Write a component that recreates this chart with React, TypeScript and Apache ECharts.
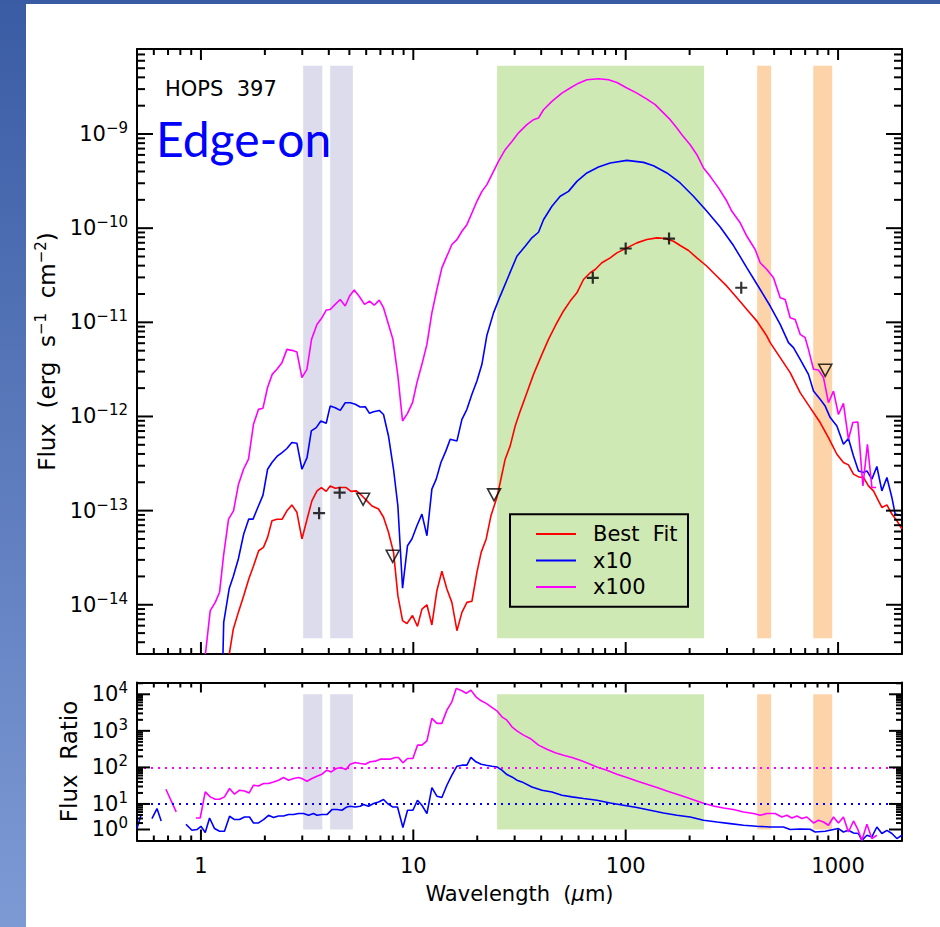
import React, { useEffect, useRef } from "react";
import * as echarts from "echarts";

type Pt = [number, number];

// ---------------- data (wavelength in micron, flux in erg s^-1 cm^-2) ----------------
const bestFit: Pt[] = [
  [1.36, 3.0e-15], [1.42, 5.5e-15], [1.5, 8.3e-15], [1.59, 1.25e-14], [1.68, 1.88e-14], [1.77, 2.6e-14],
  [1.87, 3.75e-14], [1.97, 4.07e-14], [2.06, 5.2e-14], [2.16, 7.8e-14], [2.28, 8.1e-14], [2.41, 8.1e-14],
  [2.54, 9.95e-14], [2.68, 1.15e-13], [2.83, 9.6e-14], [2.99, 5.0e-14], [3.16, 8.1e-14], [3.33, 1.27e-13],
  [3.52, 1.62e-13], [3.69, 1.76e-13], [3.89, 1.6e-13], [4.06, 1.83e-13], [4.29, 1.73e-13], [4.53, 1.76e-13],
  [4.83, 1.76e-13], [5.09, 1.6e-13], [5.39, 1.62e-13], [5.73, 1.44e-13], [6.05, 1.27e-13], [6.39, 1.12e-13],
  [6.86, 1.04e-13], [7.24, 8.5e-14], [7.64, 5.9e-14], [8.07, 3.6e-14], [8.46, 1.25e-14], [8.9, 6.8e-15],
  [9.33, 6.3e-15], [9.91, 7.7e-15], [10.46, 5.9e-15], [10.98, 9.0e-15], [11.59, 1.0e-14], [12.23, 6.1e-15],
  [12.91, 1.41e-14], [13.63, 2.27e-14], [14.39, 1.47e-14], [15.19, 1.06e-14], [16.05, 5.3e-15], [16.94, 8.3e-15],
  [17.88, 1.06e-14], [18.88, 1.09e-14], [19.93, 2.21e-14], [20.87, 3.6e-14], [22.04, 5.0e-14], [23.2, 8.8e-14],
  [24.75, 1.38e-13], [25.65, 1.99e-13], [27.08, 3.52e-13], [28.59, 4.87e-13], [30.18, 7.93e-13], [31.87, 1.14e-12],
  [34.26, 1.79e-12], [36.81, 2.8e-12], [40.33, 4.57e-12], [43.3, 6.59e-12], [47.45, 9.9e-12], [50.96, 1.32e-11],
  [54.79, 1.68e-11], [58.92, 2.06e-11], [63.29, 2.85e-11], [68.06, 3.36e-11], [71.86, 3.64e-11], [77.25, 4.29e-11],
  [84.53, 4.84e-11], [90.9, 5.47e-11], [101.3, 6.18e-11], [112.9, 6.98e-11], [125.8, 7.57e-11], [140.3, 7.89e-11],
  [153.5, 7.76e-11], [167.9, 7.26e-11], [180.6, 6.54e-11], [197.6, 5.79e-11], [216.4, 4.84e-11], [241.2, 3.94e-11],
  [268.8, 3.09e-11], [299.6, 2.42e-11], [333.9, 1.82e-11], [372.1, 1.37e-11], [414.7, 1.03e-11], [462.2, 7.14e-12],
  [479, 6.08e-12], [533.9, 4.22e-12], [594.9, 2.92e-12], [663, 1.79e-12], [738.9, 1.24e-12], [823.5, 8.62e-13],
  [901.1, 5.97e-13], [987.2, 3.97e-13], [1060, 3.24e-13], [1119, 3.06e-13], [1182, 2.44e-13], [1248, 2.28e-13],
  [1317, 2.25e-13], [1390, 1.83e-13], [1468, 1.62e-13], [1550, 1.27e-13], [1608, 1.08e-13], [1698, 1.15e-13],
  [1792, 9.2e-14], [1892, 7.8e-14], [1998, 6.4e-14],
];

const times10: Pt[] = [
  [1.27, 3.0e-15], [1.28, 6.5e-15], [1.36, 1.5e-14], [1.42, 2.0e-14], [1.5, 3.06e-14], [1.59, 5.64e-14],
  [1.68, 8.13e-14], [1.76, 8.13e-14], [1.84, 1.04e-13], [1.96, 1.46e-13], [2.06, 2.75e-13], [2.16, 3.24e-13],
  [2.28, 3.76e-13], [2.41, 4.14e-13], [2.54, 4.57e-13], [2.68, 5.29e-13], [2.83, 5.2e-13], [2.99, 2.75e-13],
  [3.16, 3.66e-13], [3.31, 7.02e-13], [3.49, 7.62e-13], [3.67, 8.95e-13], [3.89, 8.47e-13], [4.06, 1.29e-12],
  [4.29, 1.24e-12], [4.53, 1.16e-12], [4.78, 1.4e-12], [5.05, 1.4e-12], [5.33, 1.35e-12], [5.62, 1.26e-12],
  [5.94, 1.27e-12], [6.22, 1.08e-12], [6.5, 1.12e-12], [6.91, 1.16e-12], [7.24, 1.05e-12], [7.64, 6.21e-13],
  [8.07, 2.75e-13], [8.46, 1.12e-13], [8.9, 1.5e-14], [9.39, 4.24e-14], [9.85, 4.99e-14], [10.4, 6.9e-14],
  [10.98, 9.18e-14], [11.59, 5.41e-14], [12.23, 1.69e-13], [12.82, 2.16e-13], [13.49, 3.24e-13], [14.24, 4.31e-13],
  [14.92, 5.73e-13], [16.05, 5.5e-13], [16.94, 9.33e-13], [17.88, 1.19e-12], [18.88, 1.72e-12], [19.93, 2.38e-12],
  [21.04, 3.58e-12], [22.21, 7.3e-12], [23.86, 1.26e-11], [25.65, 1.9e-11], [28.07, 3.09e-11], [30.74, 5.04e-11],
  [33.64, 6.43e-11], [36.17, 7.89e-11], [38.86, 9.05e-11], [41.02, 1.23e-10], [44.94, 1.71e-10], [49.17, 2.18e-10],
  [53.8, 2.46e-10], [58.92, 3.14e-10], [65.67, 3.86e-10], [74.46, 4.47e-10], [84.53, 4.92e-10], [101.3, 5.25e-10],
  [121.3, 5.0e-10], [135.2, 4.61e-10], [156.3, 3.86e-10], [180.6, 3.02e-10], [208.5, 2.18e-10], [241.2, 1.51e-10],
  [278.6, 1.03e-10], [321.8, 6.54e-11], [372.1, 3.79e-11], [429.8, 2.23e-11], [479, 1.49e-11], [533.9, 9.5e-12],
  [584.1, 6.08e-12], [616.6, 5.38e-12], [663, 4.04e-12], [725.4, 2.8e-12], [766.1, 1.86e-12], [823.5, 1.52e-12],
  [869.6, 1.29e-12], [918.2, 9.73e-13], [987.2, 7.93e-13], [1060, 5.07e-13], [1119, 5.83e-13], [1182, 3.81e-13],
  [1248, 2.64e-13], [1317, 2.54e-13], [1367, 2.64e-13], [1443, 2.16e-13], [1523, 2.94e-13], [1608, 1.62e-13],
  [1698, 2.25e-13], [1792, 1.38e-13], [1858, 9.18e-14], [1998, 8.81e-14],
];

const times100: Pt[] = [
  [1.05, 3.0e-15], [1.106, 8.66e-15], [1.168, 1.06e-14], [1.224, 1.36e-14], [1.278, 3.32e-14], [1.349, 8.13e-14],
  [1.424, 9.95e-14], [1.503, 1.91e-13], [1.587, 2.75e-13], [1.675, 3.52e-13], [1.768, 8.26e-13], [1.867, 1.19e-12],
  [1.958, 1.22e-12], [2.059, 2.03e-12], [2.166, 2.8e-12], [2.279, 3.17e-12], [2.407, 3.73e-12], [2.541, 5.16e-12],
  [2.682, 5.04e-12], [2.831, 4.83e-12], [2.989, 2.59e-12], [3.156, 3.17e-12], [3.317, 6.59e-12], [3.517, 9.5e-12],
  [3.713, 1.12e-11], [3.89, 1.35e-11], [4.062, 1.37e-11], [4.289, 1.55e-11], [4.527, 1.75e-11], [4.779, 1.49e-11],
  [5.008, 1.9e-11], [5.27, 2.2e-11], [5.58, 1.87e-11], [5.892, 1.55e-11], [6.221, 1.68e-11], [6.545, 1.52e-11],
  [6.912, 1.72e-11], [7.24, 1.43e-11], [7.643, 9.5e-12], [8.017, 6.59e-12], [8.463, 2.69e-12], [8.896, 8.95e-13],
  [9.391, 1.08e-12], [9.913, 1.4e-12], [10.4, 2.29e-12], [10.98, 3.58e-12], [11.59, 5.83e-12], [12.23, 1.26e-11],
  [12.91, 2.23e-11], [13.63, 3.79e-11], [14.39, 5.04e-11], [15.19, 6.7e-11], [16.05, 7.57e-11], [16.94, 9.27e-11],
  [17.88, 1.09e-10], [18.88, 1.45e-10], [19.93, 1.93e-10], [21.04, 2.46e-10], [22.21, 2.9e-10], [23.44, 3.7e-10],
  [25.18, 5.12e-10], [27.08, 6.82e-10], [29.13, 8.35e-10], [31.29, 1.03e-9], [34.26, 1.26e-9], [36.81, 1.42e-9],
  [38.86, 1.48e-9], [41.02, 1.81e-9], [44.94, 2.22e-9], [50.07, 2.72e-9], [54.79, 3.08e-9], [59.98, 3.47e-9],
  [65.67, 3.77e-9], [74.46, 3.86e-9], [82.99, 3.77e-9], [90.9, 3.52e-9], [101.3, 3.08e-9], [112.9, 2.72e-9],
  [125.8, 2.35e-9], [137.7, 2.05e-9], [148.1, 1.74e-9], [162, 1.42e-9], [174.2, 1.16e-9], [183.9, 9.83e-10],
  [201.2, 7.7e-10], [216.4, 6.03e-10], [232.5, 4.36e-10], [249.9, 3.55e-10], [273.5, 2.68e-10], [299.6, 1.93e-10],
  [316.2, 1.51e-10], [346, 1.14e-10], [372.1, 8.2e-11], [407.1, 5.93e-11], [429.8, 4.29e-11], [462.2, 3.64e-11],
  [496.5, 2.97e-11], [533.9, 1.82e-11], [563.6, 1.75e-11], [594.9, 1.12e-11], [628.1, 1.07e-11], [663, 7.45e-12],
  [699.9, 6.87e-12], [725.4, 5.16e-12], [766.1, 3.17e-12], [808.8, 3.11e-12], [853.9, 2.59e-12], [901.1, 1.4e-12],
  [951.5, 1.86e-12], [1004, 1.05e-12], [1060, 1.38e-12], [1119, 5.73e-13], [1174, 8.62e-13], [1239, 8.75e-13],
  [1309, 1.83e-13], [1375, 5.07e-13], [1443, 1.76e-13], [1511, 1.76e-13],
];

const detections: Pt[] = [[3.6, 9.4e-14], [4.5, 1.55e-13], [70, 2.97e-11], [100, 6.08e-11], [160, 7.76e-11], [350, 2.33e-11]];
const upperLimits: Pt[] = [[5.8, 1.32e-13], [8.0, 3.27e-14], [24, 1.47e-13], [870, 3.09e-12]];

// flux ratio (model / best fit); segments separated where undefined
const ratio10Segments: Pt[][] = [
  [[0.5, 2.12], [0.522, 4.9]],
  [[0.588, 3.98], [0.621, 7.48], [0.65, 3.42]],
  [
    [0.85, 2.78], [0.907, 1.9], [0.958, 1.99], [1.0, 2.45], [1.048, 1.65], [1.098, 4.13], [1.159, 2.12], [1.224, 1.79],
    [1.291, 1.79], [1.364, 4.6], [1.439, 3.74], [1.519, 3.74], [1.604, 4.4], [1.694, 4.4], [1.768, 3.02], [1.867, 3.02],
    [1.971, 3.74], [2.081, 4.9], [2.197, 4.24], [2.319, 4.69], [2.448, 4.69], [2.585, 5.12], [2.729, 5.12], [2.881, 5.46],
    [3.041, 5.46], [3.211, 4.9], [3.39, 5.46], [3.517, 4.9], [3.713, 5.12], [3.92, 5.12], [4.139, 7.02], [4.369, 7.02],
    [4.612, 6.72], [4.868, 8.28], [5.045, 8.65], [5.328, 8.28], [5.623, 8.65], [5.829, 9.63], [6.153, 8.65], [6.495, 10.3],
    [6.859, 11.3], [7.24, 13.2], [7.561, 10.3], [7.983, 8.28], [8.427, 8.28], [8.933, 2.26], [9.391, 6.72], [9.957, 6.72],
    [10.46, 12.6], [10.98, 9.21], [11.59, 5.46], [12.23, 28.1], [12.91, 16.3], [13.63, 15.0], [14.39, 32.5], [15.19, 61.1],
    [16.05, 108], [16.94, 115], [17.88, 115], [18.67, 187], [19.71, 142], [20.87, 122], [22.04, 115], [23.44, 108],
    [24.75, 103], [26.13, 83.8], [27.59, 63.8], [29.13, 54.9], [30.74, 44.6], [32.46, 40.1], [36.17, 29.2], [40.33, 23.7],
    [44.94, 21.3], [50.07, 17.3], [55.81, 15.6], [63.29, 14.1], [73.17, 12.6], [84.53, 10.6], [97.63, 9.21], [112.9, 7.96],
    [130.4, 6.72], [150.7, 5.66], [174.2, 4.9], [201.2, 4.4], [232.5, 3.58], [268.8, 3.21], [310.5, 2.9], [358.6, 2.61],
    [414.7, 2.45], [479, 2.34], [553.4, 2.34], [594.9, 1.99], [663, 2.07], [738.9, 2.03], [780.2, 1.71], [869.6, 1.79],
    [951.5, 1.99], [1004, 2.12], [1060, 1.71], [1119, 1.9], [1182, 1.61], [1248, 1.55], [1295, 1.01], [1367, 1.39],
    [1443, 1.25], [1523, 2.34], [1608, 1.55], [1698, 1.9], [1792, 1.55], [1892, 1.13], [1998, 1.39],
  ],
];

const ratio100Segments: Pt[][] = [
  [[0.684, 25.3], [0.765, 6.04]],
  [
    [0.947, 4.13], [0.992, 4.13], [1.048, 21.3], [1.106, 15.6], [1.168, 13.5], [1.224, 13.5], [1.291, 15.6], [1.364, 26.4],
    [1.439, 18.5], [1.519, 23.7], [1.604, 22.7], [1.688, 20.0], [1.768, 32.5], [1.867, 31.1], [1.971, 36.2], [2.081, 36.2],
    [2.197, 40.1], [2.319, 44.6], [2.448, 52.9], [2.585, 44.6], [2.729, 49.7], [2.881, 52.9], [2.989, 49.7], [3.156, 41.9],
    [3.332, 49.7], [3.517, 57.4], [3.713, 65.2], [3.92, 83.8], [4.107, 75.3], [4.335, 93.3], [4.562, 99.4], [4.815, 87.5],
    [5.045, 122], [5.328, 136], [5.623, 128], [5.937, 122], [6.268, 142], [6.616, 148], [6.986, 168], [7.374, 168],
    [7.785, 168], [8.218, 187], [8.517, 187], [8.933, 133], [9.391, 175], [9.957, 175], [10.46, 406], [10.98, 406],
    [11.59, 532], [12.23, 2190], [12.91, 1600], [13.63, 1600], [14.39, 3690], [15.19, 6230], [15.92, 14500], [16.94, 12500],
    [17.75, 10600], [18.67, 13000], [19.71, 8550], [20.87, 6640], [22.04, 5630], [23.44, 4380], [24.75, 3530], [26.13, 2420],
    [27.59, 1960], [29.13, 1290], [30.74, 1000], [33.03, 762], [35.51, 619], [38.86, 406], [42.56, 315], [46.58, 250],
    [50.96, 216], [55.81, 187], [61.06, 157], [66.82, 128], [73.17, 103], [81.55, 83.8], [90.9, 65.2], [101.3, 52.9],
    [112.9, 42.7], [125.8, 34.7], [140.3, 28.1], [156.3, 22.7], [174.2, 18.5], [194.1, 15.0], [216.4, 12.1], [234.3, 10.3],
    [259.1, 8.81], [288.7, 7.77], [321.8, 7.03], [358.6, 6.04], [399.7, 5.46], [429.8, 4.9], [462.2, 5.46], [505.7, 5.46],
    [543.7, 4.4], [574.1, 4.9], [606, 4.13], [639.8, 4.69], [675.5, 3.98], [713.1, 4.4], [766.1, 3.02], [808.8, 3.58],
    [853.9, 3.21], [901.1, 2.61], [951.5, 4.4], [1004, 3.02], [1060, 4.4], [1119, 1.71], [1182, 3.42], [1234, 2.12],
    [1295, 1.01], [1367, 2.78], [1443, 1.13], [1523, 1.39],
  ],
];

const ratioLevels = [10, 100];

// wavelength bands (micron)
const iracBands: Pt[] = [[3.03, 3.73], [4.06, 5.19]];
const farIRBands: Pt[] = [[24.8, 234]];
const submmBands: Pt[] = [[416, 484], [764, 938]];
const bandFluxRange: Pt = [4.4e-15, 5.3e-9];
const bandRatioRange: Pt = [2, 1e4];

// axis ticks / labels
const waveTickLabels = [1, 10, 100, 1000];
const fluxTickExponents = [-14, -13, -12, -11, -10, -9];
const ratioTickValues = [2, 10, 100, 1000, 10000];
const ratioTickExponents = ["0", "1", "2", "3", "4"];

const WAVE_RANGE: Pt = [0.5, 2000];
const FLUX_RANGE: Pt = [3e-15, 8e-9];
const RATIO_RANGE: Pt = [1, 2.1e4];

// ---------------- styling ----------------
const FONT = "'DejaVu Sans', 'Liberation Sans', sans-serif";
const RED = "#ff0000";
const BLUE = "#0000ff";
const MAGENTA = "#ff00ff";
const LAVENDER = "#dcdcec";
const GREEN = "#cfe9b4";
const ORANGE = "#fdd4a9";
const MINUS = "\u2212";
const SP2 = "\u00a0\u00a0";

const lg = (v: number) => Math.log10(v);

function minorTicks(e0: number, e1: number, lo: number, hi: number, skip: number[] = []): number[] {
  const out: number[] = [];
  for (let e = e0; e <= e1; e++) {
    for (let m = 2; m <= 9; m++) {
      const v = Number(`${m}e${e}`);
      if (v > lo * 1.0001 && v < hi * 0.9999 && !skip.some((s) => Math.abs(s - v) < 1e-9 * s)) out.push(v);
    }
  }
  return out;
}

const waveMinor = minorTicks(-1, 3, WAVE_RANGE[0], WAVE_RANGE[1]);
const fluxMinorLog = minorTicks(-15, -9, FLUX_RANGE[0], FLUX_RANGE[1]).map(lg);
const fluxRangeLog: Pt = [lg(FLUX_RANGE[0]), lg(FLUX_RANGE[1])];
const ratioMinor = minorTicks(0, 4, RATIO_RANGE[0], RATIO_RANGE[1], [2]);

// tick marks drawn through the axes' own scales (custom series): [x, y, dx, dy]
function tickMarks(
  xr: Pt, yr: Pt, xMaj: number[], xMin: number[], yMaj: number[], yMin: number[],
  len: { xb: Pt; xt: Pt; y: Pt }
): number[][] {
  const d: number[][] = [];
  xMaj.forEach((v) => { d.push([v, yr[0], 0, -len.xb[0]]); d.push([v, yr[1], 0, len.xt[0]]); });
  xMin.forEach((v) => { d.push([v, yr[0], 0, -len.xb[1]]); d.push([v, yr[1], 0, len.xt[1]]); });
  yMaj.forEach((v) => { d.push([xr[0], v, len.y[0], 0]); d.push([xr[1], v, -len.y[0], 0]); });
  yMin.forEach((v) => { d.push([xr[0], v, len.y[1], 0]); d.push([xr[1], v, -len.y[1], 0]); });
  return d;
}

function tickSeries(xIdx: number, yIdx: number, data: number[][]) {
  return {
    type: "custom",
    name: "ticks" + xIdx,
    xAxisIndex: xIdx,
    yAxisIndex: yIdx,
    silent: true,
    clip: false,
    z: 8,
    encode: { x: 0, y: 1 },
    data,
    renderItem: (_p: any, api: any) => {
      const p = api.coord([api.value(0), api.value(1)]);
      return {
        type: "line",
        shape: { x1: p[0], y1: p[1], x2: p[0] + api.value(2), y2: p[1] + api.value(3) },
        style: { stroke: "#000", lineWidth: 2 },
      };
    },
  };
}

function baseAxis(type: string, grid: number, position: string, range: Pt, extra: any = {}) {
  return {
    type,
    ...(type === "log" ? { logBase: 10 } : {}),
    gridIndex: grid,
    position,
    min: range[0],
    max: range[1],
    axisLine: { show: true, onZero: false, lineStyle: { color: "#000", width: 2 } },
    axisTick: { show: false },
    axisLabel: { show: false },
    splitLine: { show: false },
    minorTick: { show: false },
    minorSplitLine: { show: false },
    ...extra,
  };
}

const supRich = {
  b: { fontSize: 21, fontFamily: FONT, color: "#000" },
  s: { fontSize: 15, fontFamily: FONT, color: "#000", padding: [0, 0, 12, 0] },
};

function bandsArea(yRange: Pt) {
  const mk = (bands: Pt[], color: string) =>
    bands.map((b) => [
      { xAxis: b[0], yAxis: yRange[0], itemStyle: { color, opacity: 1 } },
      { xAxis: b[1], yAxis: yRange[1] },
    ]);
  return {
    silent: true,
    itemStyle: { opacity: 1 },
    data: [...mk(iracBands, LAVENDER), ...mk(farIRBands, GREEN), ...mk(submmBands, ORANGE)],
  };
}

function joinSegments(segs: Pt[][]): any[] {
  const out: any[] = [];
  segs.forEach((s, i) => {
    if (i > 0) out.push([s[0][0], "-"]);
    s.forEach((p) => out.push(p));
  });
  return out;
}

// flux panel uses log10(flux) on a value axis
const toLogFlux = (pts: Pt[]) => pts.map(([w, f]) => [w, lg(f)]);

const option: any = {
  animation: false,
  backgroundColor: "#ffffff",
  graphic: [
    {
      type: "rect",
      z: -10,
      shape: { x: 0, y: 0, width: 26, height: 927 },
      style: {
        fill: new echarts.graphic.LinearGradient(0, 0, 0, 1, [
          { offset: 0, color: "#3a5ca4" },
          { offset: 1, color: "#7e9ad5" },
        ]),
      },
    },
    { type: "rect", z: -10, shape: { x: 0, y: 0, width: 940, height: 4 }, style: { fill: "#3a5ca4" } },
    {
      type: "text",
      z: 10,
      x: 165,
      y: 88.5,
      style: { text: "HOPS" + SP2 + "397", fontSize: 21, fontFamily: FONT, fill: "#000", verticalAlign: "middle" },
    },
    {
      type: "text",
      z: 10,
      x: 156,
      y: 138,
      style: { text: "Edge-on", fontSize: 48, fontFamily: "Lato, 'Open Sans', sans-serif", fill: "#0000ff", verticalAlign: "middle" },
    },
    {
      type: "rect",
      z: 10,
      shape: { x: 510, y: 514.3, width: 178, height: 92.4 },
      style: { fill: "none", stroke: "#000", lineWidth: 2 },
    },
  ],
  grid: [
    { left: 137, top: 49, width: 765, height: 605 },
    { left: 137, top: 682.5, width: 765, height: 158 },
  ],
  legend: {
    data: ["Best Fit", "x10", "x100"],
    orient: "vertical",
    left: 535,
    top: 523.5,
    padding: 0,
    itemWidth: 40,
    itemHeight: 14,
    itemGap: 5.5,
    selectedMode: false,
    itemStyle: { color: "rgba(0,0,0,0)", borderColor: "rgba(0,0,0,0)", borderWidth: 0, opacity: 0 },
    formatter: (n: string) => (n === "Best Fit" ? "Best" + SP2 + "Fit" : n),
    textStyle: { fontFamily: FONT, fontSize: 21, color: "#000", padding: [0, 0, 0, 12] },
  },
  xAxis: [
    baseAxis("log", 0, "bottom", WAVE_RANGE),
    baseAxis("log", 0, "top", WAVE_RANGE),
    baseAxis("log", 1, "bottom", WAVE_RANGE, {
      axisLabel: {
        show: true,
        customValues: waveTickLabels,
        formatter: (v: number) => String(Math.round(v)),
        margin: 15,
        fontSize: 21,
        fontFamily: FONT,
        color: "#000",
      },
      name: "Wavelength" + SP2 + "({mu|\u03bc}m)",
      nameLocation: "middle",
      nameGap: 43,
      nameTextStyle: {
        fontSize: 21,
        fontFamily: FONT,
        color: "#000",
        rich: { mu: { fontSize: 21, fontFamily: FONT, fontStyle: "italic", color: "#000" } },
      },
    }),
    baseAxis("log", 1, "top", WAVE_RANGE),
  ],
  yAxis: [
    baseAxis("value", 0, "left", fluxRangeLog, {
      axisLabel: {
        show: true,
        customValues: fluxTickExponents,
        formatter: (v: number) => `{b|10}{s|${MINUS}${Math.abs(Math.round(v))}}`,
        margin: 9,
        rich: supRich,
      },
      name: `Flux${SP2}(erg${SP2}s{s|${MINUS}1}${SP2}cm{s|${MINUS}2})`,
      nameLocation: "middle",
      nameRotate: 90,
      nameGap: 76,
      nameTextStyle: {
        fontSize: 23,
        fontFamily: FONT,
        color: "#000",
        rich: { s: { fontSize: 15, fontFamily: FONT, color: "#000", padding: [0, 0, 12, 0] } },
      },
    }),
    baseAxis("value", 0, "right", fluxRangeLog),
    baseAxis("log", 1, "left", RATIO_RANGE, {
      axisLabel: {
        show: true,
        customValues: ratioTickValues,
        formatter: (v: number) => {
          const i = ratioTickValues.findIndex((t) => Math.abs(t - v) < 1e-6 * t);
          return `{b|10}{s|${i >= 0 ? ratioTickExponents[i] : ""}}`;
        },
        margin: 9,
        rich: supRich,
      },
      name: "Flux" + SP2 + "Ratio",
      nameLocation: "middle",
      nameRotate: 90,
      nameGap: 57,
      nameTextStyle: { fontSize: 23, fontFamily: FONT, color: "#000" },
    }),
    baseAxis("log", 1, "right", RATIO_RANGE),
  ],
  series: [
    {
      type: "line", name: "bandsTop", xAxisIndex: 0, yAxisIndex: 0, data: [], silent: true,
      markArea: bandsArea([lg(bandFluxRange[0]), lg(bandFluxRange[1])]),
    },
    { type: "line", name: "bandsBottom", xAxisIndex: 2, yAxisIndex: 2, data: [], silent: true, markArea: bandsArea(bandRatioRange) },
    {
      type: "line", name: "Best Fit", xAxisIndex: 0, yAxisIndex: 0, data: toLogFlux(bestFit), symbol: "none", z: 3,
      lineStyle: { color: RED, width: 1.6 }, itemStyle: { color: RED },
    },
    {
      type: "line", name: "x10", xAxisIndex: 0, yAxisIndex: 0, data: toLogFlux(times10), symbol: "none", z: 3,
      lineStyle: { color: BLUE, width: 1.6 }, itemStyle: { color: BLUE },
    },
    {
      type: "line", name: "x100", xAxisIndex: 0, yAxisIndex: 0, data: toLogFlux(times100), symbol: "none", z: 3,
      lineStyle: { color: MAGENTA, width: 1.6 }, itemStyle: { color: MAGENTA },
    },
    {
      type: "scatter", name: "detections", xAxisIndex: 0, yAxisIndex: 0, data: toLogFlux(detections), z: 6,
      symbol: "path://M5 0 L5 10 M0 5 L10 5", symbolSize: 12,
      itemStyle: { color: "#000", borderColor: "#000", borderWidth: 2.2 },
    },
    {
      type: "scatter", name: "upper limits", xAxisIndex: 0, yAxisIndex: 0, data: toLogFlux(upperLimits), z: 6,
      symbol: "triangle", symbolRotate: 180, symbolSize: [13, 12],
      itemStyle: { color: "rgba(0,0,0,0)", borderColor: "#000", borderWidth: 1.6 },
    },
    {
      type: "line", name: "ratio x10", xAxisIndex: 2, yAxisIndex: 2, data: joinSegments(ratio10Segments), symbol: "none", z: 3,
      connectNulls: false, lineStyle: { color: BLUE, width: 1.6 },
      markLine: {
        silent: true, symbol: "none", label: { show: false },
        lineStyle: { color: BLUE, type: [2, 5], width: 2 },
        data: [{ yAxis: ratioLevels[0] }],
      },
    },
    {
      type: "line", name: "ratio x100", xAxisIndex: 2, yAxisIndex: 2, data: joinSegments(ratio100Segments), symbol: "none", z: 3,
      connectNulls: false, lineStyle: { color: MAGENTA, width: 1.6 },
      markLine: {
        silent: true, symbol: "none", label: { show: false },
        lineStyle: { color: MAGENTA, type: [2, 5], width: 2 },
        data: [{ yAxis: ratioLevels[1] }],
      },
    },
    tickSeries(0, 0, tickMarks(WAVE_RANGE, fluxRangeLog, waveTickLabels, waveMinor, fluxTickExponents, fluxMinorLog,
      { xb: [12, 6], xt: [11, 6], y: [16, 8] })),
    tickSeries(2, 2, tickMarks(WAVE_RANGE, RATIO_RANGE, waveTickLabels, waveMinor, ratioTickValues, ratioMinor,
      { xb: [11, 5], xt: [10, 5], y: [13, 6] })),
  ],
};

export default function App() {
  const ref = useRef<HTMLDivElement>(null);
  useEffect(() => {
    const chart = echarts.init(ref.current!, null, { renderer: "svg" });
    chart.setOption(option);
    return () => chart.dispose();
  }, []);
  return (
    <div
      ref={ref}
      style={{ position: "absolute", left: 0, top: 0, width: 940, height: 927, background: "#fff" }}
    />
  );
}
